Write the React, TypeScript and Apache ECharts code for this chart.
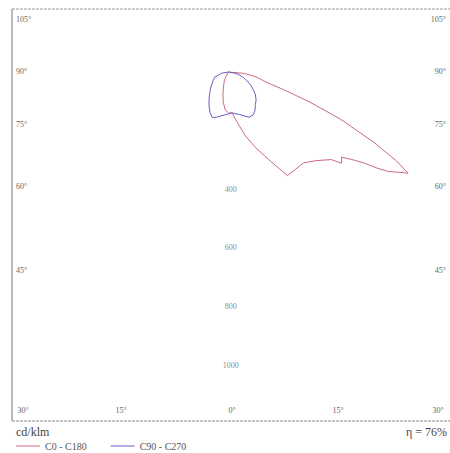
import { useEffect, useRef } from "react";
import * as echarts from "echarts";

// C0 - C180 plane: angle from nadir (deg, + = C0 side, - = C180 side) and intensity (cd/klm)
const c0Angles = [-90, -30, -25, -20, -15, -10, -5, 0, 5, 10, 15, 20, 25, 30, 35, 40, 45, 50, 51.5, 53.5, 54.5, 55, 56.5, 57.5, 58.5, 60, 61, 62.5, 64.5, 67.5, 70, 72.5, 75, 77.5, 80, 85, 90];
const c0Values = [0, 20, 35, 50, 75, 105, 130, 140, 140, 175, 225, 275, 330, 408, 405, 405, 428, 465, 500, 488, 510, 520, 562, 610, 650, 685, 712, 655, 560, 420, 300, 200, 137, 114, 96, 55, 0];

// C90 - C270 plane
const c90Angles = [-90, -80, -70, -60, -50, -45, -40, -35, -30, -25, -20, -15, -10, -5, 0, 5, 10, 15, 20, 25, 30, 35, 40, 45, 50, 55, 60, 65, 70, 75, 80, 90];
const c90Values = [0, 25, 50, 63, 80, 90, 103, 118, 135, 152, 165, 160, 152, 147, 143, 140, 145, 150, 160, 170, 170, 160, 145, 135, 122, 105, 88, 70, 55, 38, 24, 0];

const seriesNames = ["C0 - C180", "C90 - C270"];
const intensityTicks = [400, 600, 800, 1000];
const sideAngleLabels = ["105°", "90°", "75°", "60°", "45°"];
const bottomAngleLabels = ["30°", "15°", "0°", "15°", "30°"];
const unitLabel = "cd/klm";
const efficiencyLabel = "η = 76%";

const toXY = (angles: number[], values: number[]) =>
  angles.map((a, i) => {
    const r = (a * Math.PI) / 180;
    return [values[i] * Math.sin(r), -values[i] * Math.cos(r)];
  });

export default function App() {
  const ref = useRef<HTMLDivElement>(null);
  useEffect(() => {
    if (!ref.current) return;
    const chart = echarts.init(ref.current, undefined, { renderer: "svg" });
    const S = 0.293; // px per cd/klm
    const ox = 232, oy = 72; // origin in px
    const gl = 12, gt = 9, gw = 445, gh = 412;
    const xMin = -(ox - gl) / S, xMax = (gl + gw - ox) / S;
    const yMax = (oy - gt) / S, yMin = -(gt + gh - oy) / S;
    const font = "'Liberation Serif', 'DejaVu Serif', serif";
    const lblColor = "#666666";
    const sideY = [20, 72, 125, 187, 271];
    const bottomX = [23, 121, 232, 338, 438];
    const graphics: any[] = [];
    sideAngleLabels.forEach((t, i) => {
      graphics.push({ type: "text", left: 16, top: sideY[i] - 5, style: { text: t, fontSize: 8, fill: lblColor, fontFamily: font } });
      graphics.push({ type: "text", right: 4, top: sideY[i] - 5, style: { text: t, fontSize: 8, fill: lblColor, fontFamily: font } });
    });
    bottomAngleLabels.forEach((t, i) => {
      graphics.push({ type: "text", x: bottomX[i], y: 410, style: { text: t, fontSize: 8, fill: lblColor, fontFamily: font, align: "center", verticalAlign: "middle" } });
    });
    graphics.push({ type: "line", shape: { x1: gl, y1: gt, x2: gl, y2: gt + gh }, style: { stroke: "#777", lineWidth: 1 } });
    graphics.push({ type: "line", shape: { x1: gl, y1: gt, x2: 450, y2: gt }, style: { stroke: "#9a9a9a", lineWidth: 1, lineDash: [3, 1] } });
    graphics.push({ type: "line", shape: { x1: gl, y1: gt + gh, x2: 450, y2: gt + gh }, style: { stroke: "#8a8a8a", lineWidth: 1, lineDash: [3, 1] } });
    graphics.push({ type: "text", x: 16, y: 432, style: { text: unitLabel, fontSize: 12, fill: "#444", fontFamily: font, verticalAlign: "middle" } });
    graphics.push({ type: "text", x: 447, y: 432, style: { text: efficiencyLabel, fontSize: 12, fill: "#444", fontFamily: font, align: "right", verticalAlign: "middle" } });

    chart.setOption({
      animation: false,
      grid: { left: gl, top: gt, width: gw, height: gh, show: false },
      xAxis: { type: "value", min: xMin, max: xMax, show: false },
      yAxis: { type: "value", min: yMin, max: yMax, show: false },
      legend: {
        left: 16, top: 441, padding: 0, itemWidth: 24, itemHeight: 1, itemGap: 24, icon: "rect",
        data: seriesNames,
        textStyle: { fontSize: 10, color: "#555", fontFamily: font },
      },
      series: [
        {
          name: seriesNames[0], type: "line", data: toXY(c0Angles, c0Values), symbol: "none",
          lineStyle: { color: "#cc6a82", width: 1 }, itemStyle: { color: "#cc6a82" }, clip: false,
        },
        {
          name: seriesNames[1], type: "line", data: toXY(c90Angles, c90Values), symbol: "none",
          lineStyle: { color: "#6a5cc8", width: 1 }, itemStyle: { color: "#6a5cc8" }, clip: false,
        },
        {
          name: "ticks", type: "scatter", symbolSize: 0, silent: true,
          data: intensityTicks.map((v) => [8, -v]),
          label: { show: true, position: "inside", formatter: (p: any) => String(intensityTicks[p.dataIndex]), fontSize: 8, color: lblColor, fontFamily: font },
        },
      ],
      graphic: graphics,
    });
    return () => chart.dispose();
  }, []);
  return <div ref={ref} style={{ position: "fixed", left: 0, top: 0, width: 450, height: 453, background: "#fff" }} />;
}
